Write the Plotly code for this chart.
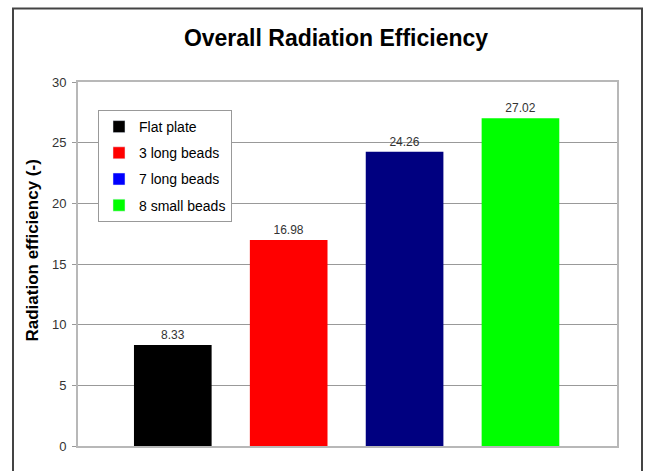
import plotly.graph_objects as go

# Chart data
categories = ["Flat plate", "3 long beads", "7 long beads", "8 small beads"]
efficiency = [8.33, 16.98, 24.26, 27.02]
y_ticks = [0, 5, 10, 15, 20, 25, 30]

# Styling
bar_colors = ["#000000", "#ff0000", "#000080", "#00ff00"]
legend_colors = ["#000000", "#ff0000", "#0000ff", "#00ff00"]
FONT = "Liberation Sans, Arial, sans-serif"

W, H = 648, 471
ML, MR, MT, MB = 78, 31, 82, 25
PW, PH = W - ML - MR, H - MT - MB


def px_x(x):
    return (x - ML) / PW


def px_y(y):
    return (H - MB - y) / PH


fig = go.Figure()

# Bars with value labels
for name, val, col in zip(categories, efficiency, bar_colors):
    fig.add_trace(go.Bar(
        x=[name], y=[val], width=0.67,
        marker=dict(color=col, line=dict(width=0)),
        text=[f"{val:.2f}"], textposition="outside",
        textfont=dict(family=FONT, size=12, color="#333333"),
        cliponaxis=False, showlegend=False,
    ))

# Legend entries
for i, (name, col) in enumerate(zip(categories, legend_colors)):
    fig.add_trace(go.Bar(
        x=[None], y=[None], name=name, marker=dict(color=col),
        legendgroup=f"g{i}", showlegend=True,
    ))

fig.update_layout(
    width=W, height=H, autosize=False,
    margin=dict(l=ML, r=MR, t=MT, b=MB, pad=0),
    paper_bgcolor="white", plot_bgcolor="white",
    barmode="overlay",
    font=dict(family=FONT, color="#333333"),
    title=dict(
        text="<b>Overall Radiation Efficiency</b>",
        x=336 / W, xref="container", xanchor="center",
        y=1 - 38 / H, yref="container", yanchor="middle",
        font=dict(family=FONT, size=23, color="#000000"),
    ),
    xaxis=dict(
        range=[-0.818, 3.833], showticklabels=False, ticks="",
        showgrid=False, zeroline=False,
        showline=True, linecolor="#b8b8b8", linewidth=2, mirror=True,
    ),
    yaxis=dict(
        range=[0, 30], tickvals=y_ticks, ticks="outside", ticklen=4,
        tickcolor="#999999", ticklabelstandoff=3,
        tickfont=dict(family=FONT, size=13, color="#333333"),
        showgrid=True, gridcolor="#999999", gridwidth=1, zeroline=False,
        showline=True, linecolor="#b8b8b8", linewidth=2, mirror=True,
    ),
    legend=dict(
        x=px_x(98), y=px_y(110), xanchor="left", yanchor="top",
        bgcolor="white", bordercolor="#999999", borderwidth=1,
        font=dict(family=FONT, size=14, color="#000000"),
        tracegroupgap=5, itemwidth=30,
    ),
    annotations=[dict(
        text="<b>Radiation efficiency (-)</b>", textangle=-90,
        xref="paper", yref="paper", x=px_x(31.5), y=px_y(251),
        xanchor="center", yanchor="middle", showarrow=False,
        font=dict(family=FONT, size=17, color="#000000"),
    )],
    shapes=[dict(
        type="rect", xref="paper", yref="paper",
        x0=px_x(13), x1=px_x(642), y0=-0.3, y1=px_y(8.5),
        line=dict(color="#444444", width=2), fillcolor="rgba(0,0,0,0)",
        layer="above",
    )],
)

fig.write_html("out.html")
